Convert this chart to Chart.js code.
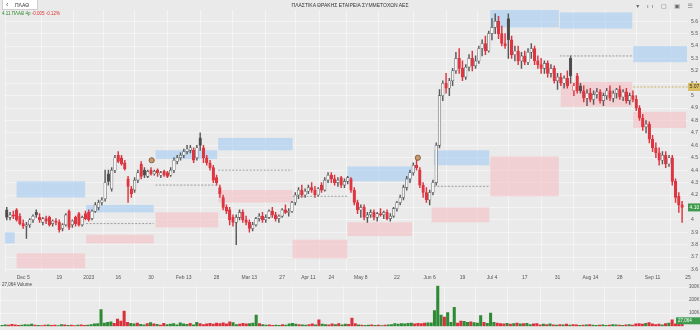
<!DOCTYPE html>
<html><head><meta charset="utf-8">
<script src="https://cdn.jsdelivr.net/npm/chart.js@4/dist/chart.umd.min.js"></script>
<style>
html,body{margin:0;padding:0}
body{width:700px;height:330px;background:#eaeaea;overflow:hidden;font-family:"Liberation Sans","DejaVu Sans",Arial,sans-serif;position:relative}
canvas{position:absolute;left:0}
#price{top:0}
#vol{top:282px}
#search{position:absolute;left:2px;top:0;width:36px;height:10px;background:#fff;border:1px solid #cfcfcf;border-top:none;font-size:5px;line-height:10px;color:#333;box-sizing:border-box}
#search span.arrow{position:absolute;left:3px;top:0;font-size:7px;line-height:9px;color:#555}
#search span.tk{position:absolute;left:12px;top:0}
#title{position:absolute;left:0;width:700px;top:2px;text-align:center;font-size:5px;color:#333}
#sub{position:absolute;left:2px;top:11px;font-size:4.5px;color:#2e8b2e}
#sub b{font-weight:normal;color:#d33}
#vlab{position:absolute;left:2px;top:282px;font-size:4.5px;color:#444}
#icons{position:absolute;right:4px;top:2px;font-size:6px;color:#666;letter-spacing:3px}
</style></head>
<body>
<canvas id="price" width="700" height="282"></canvas>
<canvas id="vol" width="700" height="48"></canvas>
<div id="search"><span class="arrow">‹</span><span class="tk">ΠΛΑΘ</span></div>
<div id="title">ΠΛΑΣΤΙΚΑ ΘΡΑΚΗΣ ΕΤΑΙΡΕΙΑ ΣΥΜΜΕΤΟΧΩΝ ΑΕΣ</div>
<div id="sub">4.11 ΠΛΑΘ 4p <b>-0.005 -0.12%</b></div>
<div id="vlab">27,064 Volume</div>
<div id="icons">▾ ıı ▢ ▣ ☰</div>
<script>
// ---------- data ----------
const open = [
4.08,4.02,4.04,4.08,4.03,3.97,3.95,3.96,4.00,4.06,
4.02,3.98,4.01,4.02,3.97,3.99,3.98,3.93,3.96,4.07,
3.96,4.02,4.05,3.96,4.05,4.06,4.01,4.07,4.10,4.14,
4.17,4.37,4.25,4.40,4.52,4.50,4.46,4.33,4.25,4.24,
4.32,4.45,4.40,4.35,4.40,4.37,4.40,4.36,4.39,4.38,
4.36,4.40,4.47,4.50,4.52,4.55,4.56,4.56,4.50,4.66,
4.58,4.50,4.46,4.42,4.34,4.26,4.18,4.10,4.08,4.02,
3.98,4.02,4.06,4.00,3.98,3.93,3.96,4.01,4.03,4.00,
4.02,4.07,4.04,4.01,4.03,4.08,4.06,4.07,4.14,4.20,
4.24,4.20,4.23,4.26,4.24,4.20,4.28,4.24,4.32,4.36,
4.33,4.30,4.34,4.28,4.31,4.33,4.24,4.14,4.08,4.10,
4.02,4.04,4.06,4.02,4.05,4.04,4.06,4.01,4.03,4.09,
4.14,4.18,4.26,4.33,4.38,4.44,4.40,4.28,4.22,4.16,
4.22,4.30,4.60,5.00,5.10,5.06,5.12,5.20,5.30,5.22,
5.15,5.23,5.30,5.24,5.28,5.38,5.42,5.36,5.50,5.55,
5.60,5.50,5.42,5.62,5.45,5.33,5.36,5.28,5.32,5.27,
5.35,5.38,5.28,5.25,5.22,5.26,5.18,5.22,5.12,5.15,
5.10,5.14,5.30,5.04,5.16,5.08,5.04,4.98,5.02,4.97,
5.01,5.03,4.96,5.00,5.04,4.98,5.02,5.05,4.99,5.03,
4.96,5.00,4.97,4.90,4.82,4.75,4.77,4.65,4.58,4.54,
4.48,4.52,4.45,4.50,4.31,4.19,4.12];
const high = [
4.10,4.06,4.07,4.09,4.05,4.00,3.98,4.01,4.04,4.08,
4.05,4.02,4.03,4.03,4.00,4.01,4.00,3.97,4.05,4.08,
4.00,4.03,4.06,4.03,4.07,4.08,4.08,4.14,4.16,4.18,
4.40,4.40,4.42,4.52,4.55,4.52,4.48,4.35,4.27,4.34,
4.40,4.47,4.42,4.40,4.42,4.40,4.41,4.39,4.40,4.39,
4.42,4.50,4.52,4.54,4.57,4.60,4.60,4.58,4.60,4.70,
4.60,4.52,4.48,4.44,4.36,4.28,4.20,4.12,4.10,4.04,
4.04,4.08,4.08,4.03,4.00,3.98,4.02,4.05,4.06,4.04,
4.08,4.10,4.06,4.04,4.09,4.12,4.09,4.15,4.22,4.26,
4.28,4.25,4.28,4.30,4.27,4.26,4.30,4.34,4.38,4.38,
4.36,4.34,4.35,4.33,4.35,4.34,4.26,4.16,4.12,4.12,
4.06,4.08,4.08,4.06,4.09,4.07,4.08,4.05,4.10,4.15,
4.20,4.28,4.35,4.40,4.46,4.50,4.42,4.30,4.26,4.24,
4.32,4.62,5.05,5.12,5.18,5.14,5.22,5.35,5.38,5.28,
5.25,5.33,5.36,5.32,5.40,5.45,5.48,5.52,5.62,5.66,
5.64,5.56,5.50,5.66,5.48,5.40,5.40,5.35,5.36,5.38,
5.42,5.40,5.32,5.30,5.28,5.28,5.25,5.24,5.18,5.18,
5.16,5.20,5.32,5.10,5.18,5.10,5.08,5.05,5.06,5.04,
5.06,5.05,5.02,5.06,5.08,5.04,5.06,5.08,5.05,5.06,
5.02,5.04,5.00,4.92,4.85,4.80,4.79,4.68,4.62,4.58,
4.55,4.55,4.52,4.52,4.33,4.22,4.15];
const low = [
4.00,4.00,4.01,3.99,3.96,3.93,3.85,3.94,3.98,4.02,
3.98,3.96,3.97,3.95,3.95,3.96,3.90,3.91,3.95,3.92,
3.94,3.95,3.95,3.95,4.00,3.99,4.00,4.06,4.08,4.12,
4.15,4.28,4.23,4.38,4.46,4.44,4.40,4.14,4.18,4.22,
4.30,4.33,4.34,4.34,4.36,4.36,4.35,4.34,4.35,4.34,
4.35,4.38,4.45,4.48,4.50,4.53,4.54,4.46,4.48,4.56,
4.46,4.44,4.40,4.30,4.28,4.18,4.08,4.05,3.96,3.95,
3.80,4.00,3.98,3.96,3.90,3.91,3.95,3.99,3.98,3.98,
4.01,4.02,3.99,3.98,4.02,4.05,4.03,4.06,4.12,4.17,
4.18,4.18,4.21,4.22,4.18,4.19,4.22,4.23,4.30,4.30,
4.28,4.27,4.26,4.26,4.29,4.22,4.12,4.05,4.02,4.00,
3.98,4.02,4.00,3.99,4.03,4.01,4.00,3.99,4.02,4.07,
4.12,4.16,4.24,4.30,4.36,4.40,4.26,4.18,4.14,4.12,
4.20,4.28,4.58,4.96,5.02,5.00,5.08,5.18,5.18,5.12,
5.13,5.20,5.20,5.22,5.26,5.32,5.33,5.35,5.45,5.50,
5.46,5.40,5.38,5.30,5.30,5.28,5.25,5.22,5.25,5.25,
5.30,5.25,5.22,5.18,5.18,5.15,5.15,5.10,5.05,5.08,
5.06,5.06,5.10,5.00,5.02,5.02,4.95,4.92,4.95,4.93,
4.98,4.94,4.92,4.97,4.96,4.95,4.98,4.97,4.96,4.94,
4.93,4.95,4.88,4.80,4.72,4.70,4.62,4.55,4.50,4.44,
4.45,4.42,4.43,4.28,4.14,4.06,3.98];
const close = [
4.02,4.04,4.03,4.00,3.97,3.95,3.96,4.00,4.03,4.04,
4.00,4.01,3.99,3.96,3.99,3.98,3.92,3.96,4.04,3.94,
3.99,3.97,3.96,4.02,4.01,4.00,4.07,4.12,4.14,4.16,
4.30,4.31,4.40,4.50,4.47,4.45,4.41,4.27,4.21,4.32,
4.38,4.35,4.36,4.39,4.37,4.39,4.38,4.38,4.36,4.35,
4.40,4.48,4.50,4.52,4.55,4.57,4.58,4.48,4.58,4.60,
4.50,4.46,4.42,4.32,4.30,4.21,4.10,4.07,4.00,3.98,
4.02,4.06,4.00,3.98,3.93,3.96,4.01,4.03,4.00,4.02,
4.07,4.04,4.01,4.03,4.08,4.06,4.07,4.14,4.20,4.24,
4.20,4.23,4.26,4.24,4.20,4.25,4.24,4.32,4.36,4.33,
4.30,4.32,4.28,4.31,4.34,4.24,4.14,4.08,4.10,4.02,
4.04,4.06,4.02,4.05,4.04,4.06,4.01,4.03,4.09,4.14,
4.18,4.26,4.33,4.38,4.44,4.42,4.28,4.22,4.16,4.22,
4.30,4.60,5.00,5.10,5.06,5.12,5.20,5.30,5.22,5.15,
5.23,5.30,5.24,5.28,5.38,5.42,5.36,5.50,5.55,5.60,
5.50,5.42,5.40,5.45,5.33,5.36,5.28,5.32,5.27,5.35,
5.38,5.28,5.25,5.22,5.26,5.18,5.22,5.12,5.15,5.10,
5.14,5.08,5.16,5.08,5.04,5.04,4.98,5.02,4.97,5.01,
5.03,4.96,5.00,5.04,4.98,5.02,5.05,4.99,5.03,4.96,
5.00,4.97,4.90,4.82,4.75,4.77,4.65,4.58,4.54,4.48,
4.52,4.45,4.50,4.31,4.18,4.12,4.10];
// volume in thousands
const volume = [
8,12,10,15,12,8,10,14,12,16,
10,8,6,9,11,7,9,6,14,12,
8,10,6,9,12,8,10,14,18,20,
128,25,30,35,22,56,40,117,30,22,
18,25,15,12,20,28,18,15,10,22,
14,16,20,12,26,18,15,22,12,30,
20,14,18,22,16,24,20,26,18,35,
28,14,16,22,18,20,24,85,20,14,
10,12,8,10,8,14,10,18,22,16,
14,12,10,14,18,12,50,16,14,12,
18,14,20,12,16,15,63,20,12,10,
8,10,12,8,10,6,10,12,14,20,
16,20,18,22,25,18,22,20,24,26,
26,120,310,86,70,105,30,144,25,40,
38,30,35,28,25,82,30,22,100,30,
25,20,18,22,16,20,24,18,20,22,
14,18,20,12,16,14,18,12,10,14,
12,16,10,14,12,8,10,12,14,10,
8,10,12,8,10,14,12,10,8,12,
14,10,18,20,16,22,28,18,14,16,
12,20,24,50,18,35,28];

// x-axis ticks (candle index) and labels
const tickIdx = [5,16,25,34,44,54,64,74,84,92,99,108,119,129,139,148,158,168,178,187,197,207.8];
const tickLabels = ["Dec 5","19","2023","16","30","Feb 13","28","Mar 13","27","Apr 11","24","May 8","22","Jun 6","19","Jul 4","17","31","Aug 14","28","Sep 11","25"];
const priceTicks = [3.6,3.7,3.8,3.9,4,4.1,4.2,4.3,4.4,4.5,4.6,4.7,4.8,4.9,5,5.1,5.2,5.3,5.4,5.5,5.6];
const volTicks = [100,200,300];
const volTickLabels = ["100K","200K","300K"];

// zones (from index, to index, high price, low price, kind b=blue r=red)
const zoneFrom = [-0.6,3.0,24.2,45.4,64.5,103.9,130.3,147.5,168.7,191.1, 3.0,24.2,45.4,64.5,87.2,103.9,129.6,147.5,169.0,191.1];
const zoneTo   = [2.4,23.9,44.8,64.2,87.2,123.6,147.2,168.4,190.8,207.5, 23.9,44.8,64.5,87.2,103.9,123.6,147.2,168.4,190.8,207.2];
const zoneHi   = [3.90,4.31,4.12,4.56,4.66,4.43,4.56,5.69,5.67,5.40, 3.73,3.88,4.06,4.24,3.84,3.98,4.10,4.51,5.11,4.87];
const zoneLo   = [3.81,4.18,4.06,4.49,4.56,4.31,4.44,5.55,5.54,5.27, 3.61,3.81,3.94,4.14,3.69,3.87,3.98,4.19,4.91,4.74];
const zoneKind = ["b","b","b","b","b","b","b","b","b","b","r","r","r","r","r","r","r","r","r","r"];

// dashed reference levels
const dashFrom = [24.2,45.4,64.5,87.2,130.3,168.7,191.1];
const dashTo   = [44.8,64.2,87.2,103.9,147.2,190.8,207.8];
const dashVal  = [3.97,4.28,4.40,4.19,4.27,5.32,5.07];

// event markers
const markX = [44.2,125.4];
const markY = [4.48,4.50];

const refLevel = 5.07;
const lastTag = "4.10";
const volTag = "27,064";

// ---------- styling helpers ----------
const N = close.length;
const idx = Array.from({length:N},(_,i)=>i);
const RED = '#de3540', DARK = '#4a4a4a', HOLLOW = '#f5f5f5';
function edgeColor(i){ const above = i===0 || close[i]>=close[i-1]; return above ? '#5a5a5a' : RED; }
function fillColor(i){ return close[i]>=open[i] ? HOLLOW : (edgeColor(i)===RED ? RED : DARK); }
const GRID = '#f4f4f4';

const xMin = -0.6, xMax = 207.8;

function xScaleCfg(showTicks){
  return {
    type:'linear', min:xMin, max:xMax, offset:false,
    grid:{color:GRID, lineWidth:1, drawTicks:false},
    border:{display:false},
    afterBuildTicks(s){ s.ticks = tickIdx.map(v=>({value:v})); },
    afterFit(s){ s.height = showTicks ? 10 : 0; },
    ticks:{display:showTicks, autoSkip:false, maxRotation:0, padding:3, color:'#555',
      font:{size:5, family:'Liberation Sans'},
      callback(v){ const k = tickIdx.indexOf(v); return k>=0 ? tickLabels[k] : ''; } }
  };
}

const zonePlugin = {
  id:'zones',
  beforeDatasetsDraw(chart){
    const {ctx, chartArea:a, scales:{x,y}} = chart;
    ctx.save();
    ctx.beginPath(); ctx.rect(a.left,a.top,a.width,a.height); ctx.clip();
    for(let k=0;k<zoneFrom.length;k++){
      const x0=x.getPixelForValue(zoneFrom[k]), x1=x.getPixelForValue(zoneTo[k]);
      const y0=y.getPixelForValue(zoneHi[k]), y1=y.getPixelForValue(zoneLo[k]);
      ctx.fillStyle = zoneKind[k]==='b' ? 'rgba(165,203,242,0.62)' : 'rgba(246,186,192,0.55)';
      ctx.fillRect(x0,y0,x1-x0,y1-y0);
    }
    ctx.restore();
  },
  afterDraw(chart){
    const {ctx, chartArea:a, scales:{y}} = chart;
    ctx.save();
    ctx.font = '5px "Liberation Sans"';
    ctx.textBaseline='middle';
    let py = y.getPixelForValue(refLevel);
    ctx.fillStyle='#d8bd62'; ctx.fillRect(a.right,py-4,12,8);
    ctx.fillStyle='#333'; ctx.fillText(refLevel.toFixed(2), a.right+1.5, py);
    py = y.getPixelForValue(close[N-1]);
    ctx.fillStyle='#3d9a4c'; ctx.fillRect(a.right,py-4,12,8);
    ctx.fillStyle='#fff'; ctx.fillText(lastTag, a.right+1.5, py);
    ctx.restore();
  }
};

// ---------- price chart ----------
const dashSets = dashFrom.map((f,k)=>({
  type:'line', data:[{x:f,y:dashVal[k]},{x:dashTo[k],y:dashVal[k]}],
  borderColor: k===dashFrom.length-1 ? '#c6a448' : '#8c8c8c', borderWidth:0.8,
  borderDash:[2,1.5], pointRadius:0, order:2
}));

new Chart(document.getElementById('price'),{
  type:'bar',
  data:{datasets:[
    {type:'bar', data:idx.map(i=>({x:i,y:[low[i],high[i]]})), backgroundColor:idx.map(edgeColor),
     barThickness:0.8, grouped:false, order:5},
    {type:'bar', data:idx.map(i=>({x:i,y:[Math.min(open[i],close[i]),Math.max(open[i],close[i])]})),
     backgroundColor:idx.map(fillColor), borderColor:idx.map(edgeColor), borderWidth:0.6, borderSkipped:false,
     barThickness:2.6, minBarLength:0.8, grouped:false, order:4},
    ...dashSets,
    {type:'line', data:markX.map((v,k)=>({x:v,y:markY[k]})), showLine:false, pointRadius:2.6,
     pointBackgroundColor:'#c99a6a', pointBorderColor:'#6e4f33', pointBorderWidth:0.8, order:1}
  ]},
  options:{
    responsive:false, animation:false, events:[],
    layout:{padding:{top:10,left:0,right:0,bottom:0}},
    plugins:{legend:{display:false}, tooltip:{enabled:false}},
    scales:{
      x: xScaleCfg(true),
      y:{type:'linear', position:'right', min:3.58, max:5.69,
         grid:{color:GRID, drawTicks:false}, border:{display:false},
         afterBuildTicks(s){ s.ticks = priceTicks.map(v=>({value:v})); },
         afterFit(s){ s.width = 12; },
         ticks:{padding:3, color:'#555', font:{size:5, family:'Liberation Sans'},
           callback(v){ return String(Math.round(v*10)/10); }}}
    }
  },
  plugins:[zonePlugin]
});

// ---------- volume chart ----------
const volTagPlugin = {
  id:'voltag',
  afterDraw(chart){
    const {ctx, chartArea:a} = chart;
    ctx.save();
    ctx.fillStyle='#3d9a4c'; ctx.fillRect(a.right-12,a.bottom-9,24,7);
    ctx.fillStyle='#fff'; ctx.font='4.5px "Liberation Sans"'; ctx.textBaseline='middle';
    ctx.fillText(volTag, a.right-10, a.bottom-5.5);
    ctx.restore();
  }
};
new Chart(document.getElementById('vol'),{
  type:'bar',
  data:{datasets:[{data:idx.map(i=>({x:i,y:volume[i]})),
    backgroundColor:idx.map(i=> (i===0||close[i]>=close[i-1]) ? '#2f8a35' : '#d9303c'),
    barThickness:2.4, grouped:false}]},
  options:{
    responsive:false, animation:false, events:[],
    layout:{padding:{top:1,bottom:2}},
    plugins:{legend:{display:false}, tooltip:{enabled:false}},
    scales:{
      x: xScaleCfg(false),
      y:{type:'linear', position:'right', min:0, max:310,
         grid:{color:GRID, drawTicks:false}, border:{display:false},
         afterBuildTicks(s){ s.ticks = volTicks.map(v=>({value:v})); },
         afterFit(s){ s.width = 12; },
         ticks:{padding:1, color:'#555', font:{size:4.5, family:'Liberation Sans'},
           callback(v){ const k = volTicks.indexOf(v); return k>=0 ? volTickLabels[k] : ''; }}}
    }
  },
  plugins:[volTagPlugin]
});
</script>
</body></html>
